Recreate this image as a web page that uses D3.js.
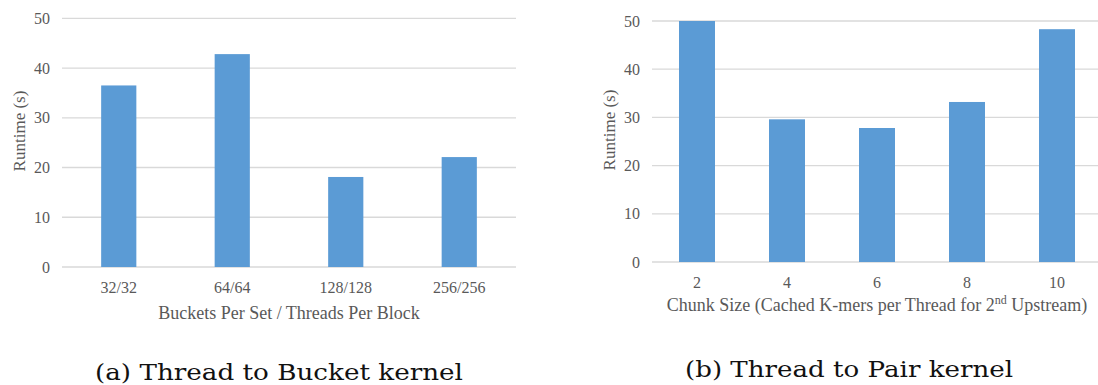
<!DOCTYPE html>
<html>
<head>
<meta charset="utf-8">
<script src="https://cdn.jsdelivr.net/npm/d3@7/dist/d3.min.js"></script>
<style>
  html, body { margin: 0; padding: 0; background: #fff; }
  svg { display: block; }
  .tick-label, .axis-title { font-family: "Liberation Serif", "Times New Roman", serif; fill: #595959; }
  .caption { font-family: "DejaVu Serif", "Liberation Serif", serif; fill: #111; }
</style>
</head>
<body>
<svg id="fig" width="1098" height="385"></svg>
<script>
// Panel (a): Thread to Bucket kernel
const bucketCategories = ["32/32", "64/64", "128/128", "256/256"];
const bucketRuntimes = [36.5, 42.8, 18.1, 22.1];

// Panel (b): Thread to Pair kernel
const chunkCategories = ["2", "4", "6", "8", "10"];
const chunkRuntimes = [50.0, 29.6, 27.8, 33.2, 48.3];

const yTicks = [0, 10, 20, 30, 40, 50];

const svg = d3.select("#fig");
const BAR = "#5b9bd5";
const GRID = "#d9d9d9";

function panel(cfg) {
  const g = svg.append("g");
  const x = d3.scaleBand().domain(cfg.categories).range([cfg.x0, cfg.x1]).paddingInner(cfg.pad).paddingOuter(cfg.pad / 2);
  const y = d3.scaleLinear().domain([0, 50]).range([cfg.yBottom, cfg.yTop]);

  // gridlines
  g.selectAll("line.grid").data(yTicks).join("line")
    .attr("class", "grid")
    .attr("x1", cfg.x0).attr("x2", cfg.x1)
    .attr("y1", d => y(d)).attr("y2", d => y(d))
    .attr("stroke", GRID).attr("stroke-width", 1.3);

  // y tick labels
  g.selectAll("text.ytick").data(yTicks).join("text")
    .attr("class", "tick-label")
    .attr("x", cfg.x0 - 12).attr("y", d => y(d))
    .attr("dy", "0.35em")
    .attr("text-anchor", "end")
    .attr("font-size", 16)
    .text(d => d);

  // bars
  g.selectAll("rect.bar").data(cfg.values).join("rect")
    .attr("class", "bar")
    .attr("x", (d, i) => x(cfg.categories[i]))
    .attr("width", x.bandwidth())
    .attr("y", d => y(d))
    .attr("height", d => y(0) - y(d))
    .attr("fill", BAR);

  // x tick labels
  g.selectAll("text.xtick").data(cfg.categories).join("text")
    .attr("class", "tick-label")
    .attr("x", d => x(d) + x.bandwidth() / 2)
    .attr("y", y(0) + 20)
    .attr("dy", "0.35em")
    .attr("text-anchor", "middle")
    .attr("font-size", 16)
    .text(d => d);

  // y axis title
  g.append("text")
    .attr("class", "axis-title")
    .attr("transform", `translate(${cfg.yTitleX},${cfg.yTitleY}) rotate(-90)`)
    .attr("dy", "0.35em")
    .attr("text-anchor", "middle")
    .attr("font-size", 17)
    .text("Runtime (s)");

  // x axis title
  const t = g.append("text")
    .attr("class", "axis-title")
    .attr("x", (cfg.x0 + cfg.x1) / 2)
    .attr("y", cfg.xTitleY)
    .attr("dy", "0.35em")
    .attr("text-anchor", "middle")
    .attr("font-size", 18);
  cfg.xTitle.forEach(part => {
    const s = t.append("tspan").text(part.text);
    if (part.sup) s.attr("baseline-shift", "super").attr("font-size", 12);
  });

  // caption
  svg.append("text")
    .attr("class", "caption")
    .attr("x", cfg.captionX)
    .attr("y", cfg.captionY)
    .attr("font-size", 23)
    .attr("textLength", cfg.captionWidth)
    .attr("lengthAdjust", "spacingAndGlyphs")
    .text(cfg.caption);
}

panel({
  categories: bucketCategories, values: bucketRuntimes,
  x0: 62, x1: 516, yTop: 18.3, yBottom: 267, pad: 0.69,
  yTitleX: 19, yTitleY: 131, xTitleY: 313,
  xTitle: [{ text: "Buckets Per Set / Threads Per Block" }],
  caption: "(a) Thread to Bucket kernel", captionX: 95, captionY: 380, captionWidth: 368
});

panel({
  categories: chunkCategories, values: chunkRuntimes,
  x0: 652, x1: 1102, yTop: 21, yBottom: 262, pad: 0.6,
  yTitleX: 609, yTitleY: 130, xTitleY: 305,
  xTitle: [{ text: "Chunk Size (Cached K-mers per Thread for 2" }, { text: "nd", sup: true }, { text: " Upstream)" }],
  caption: "(b) Thread to Pair kernel", captionX: 685, captionY: 377, captionWidth: 328
});
</script>
</body>
</html>
